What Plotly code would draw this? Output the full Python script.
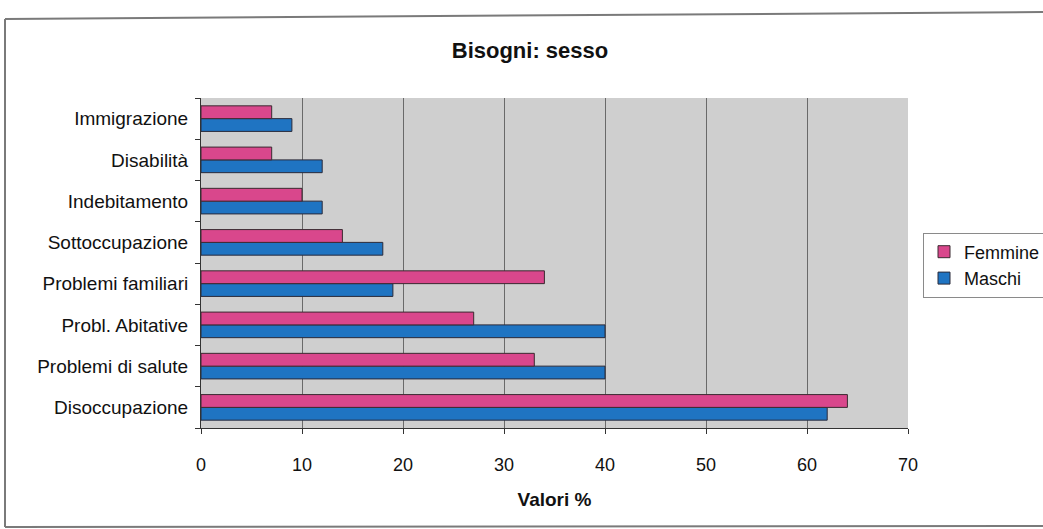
import plotly.graph_objects as go

# Need categories, listed bottom to top
categorie = [
    "Disoccupazione",
    "Problemi di salute",
    "Probl. Abitative",
    "Problemi familiari",
    "Sottoccupazione",
    "Indebitamento",
    "Disabilità",
    "Immigrazione",
]
femmine = [64, 33, 27, 34, 14, 10, 7, 7]
maschi = [62, 40, 40, 19, 18, 12, 12, 9]
tick_valori = [0, 10, 20, 30, 40, 50, 60, 70]

W, H = 1043, 529
L, R, T, B = 201, 135, 98, 101
pw, ph = W - L - R, H - T - B


def px_x(p):
    return (p - L) / pw


def px_y(p):
    return (H - B - p) / ph


fig = go.Figure()
fig.add_trace(go.Bar(
    y=categorie, x=maschi, name="Maschi", orientation="h",
    marker=dict(color="#1f74c2", line=dict(color="#2a2a3a", width=1)),
))
fig.add_trace(go.Bar(
    y=categorie, x=femmine, name="Femmine", orientation="h",
    marker=dict(color="#d9478c", line=dict(color="#3a2a30", width=1)),
))

# outer chart frame
frame = dict(color="#7a7a7a", width=2)
shapes = [
    dict(type="line", xref="paper", yref="paper",
         x0=px_x(5), x1=px_x(5), y0=px_y(19), y1=px_y(527), line=frame),
    dict(type="line", xref="paper", yref="paper",
         x0=px_x(5), x1=px_x(1043), y0=px_y(19), y1=px_y(12), line=frame),
    dict(type="line", xref="paper", yref="paper",
         x0=px_x(5), x1=px_x(1043), y0=px_y(527), y1=px_y(526), line=frame),
]

fig.update_layout(
    width=W, height=H,
    margin=dict(l=L, r=R, t=T, b=B, autoexpand=False),
    paper_bgcolor="white",
    plot_bgcolor="#cfcfcf",
    barmode="group",
    bargap=0.38,
    bargroupgap=0.0,
    font=dict(family="Liberation Sans, Arial, sans-serif", size=19, color="#111"),
    title=dict(
        text="<b>Bisogni: sesso</b>", x=530 / W, xref="container", xanchor="center",
        y=1 - 50 / H, yref="container", yanchor="middle",
        font=dict(size=22, color="#111"),
    ),
    legend=dict(
        x=px_x(923), y=px_y(265), xanchor="left", yanchor="middle",
        traceorder="reversed", bordercolor="#8a8a8a", borderwidth=1,
        bgcolor="white", font=dict(size=18),
        itemwidth=30,
    ),
    showlegend=True,
    shapes=shapes,
)

fig.update_xaxes(
    range=[0, 70], tickvals=tick_valori, ticks="outside", ticklen=5,
    tickcolor="#333", showline=True, linecolor="#333", linewidth=1,
    showgrid=True, gridcolor="#6a6a6a", gridwidth=1, zeroline=False,
    title=dict(text="<b>Valori %</b>", font=dict(size=19), standoff=19),
    tickfont=dict(size=18), ticklabelstandoff=15,
)
fig.update_yaxes(
    ticks="outside", ticklen=5, tickcolor="#333", tickson="boundaries",
    showline=True, linecolor="#333", linewidth=1,
    showgrid=False, tickfont=dict(size=19), ticklabelstandoff=8,
)

fig.write_html("out.html")
